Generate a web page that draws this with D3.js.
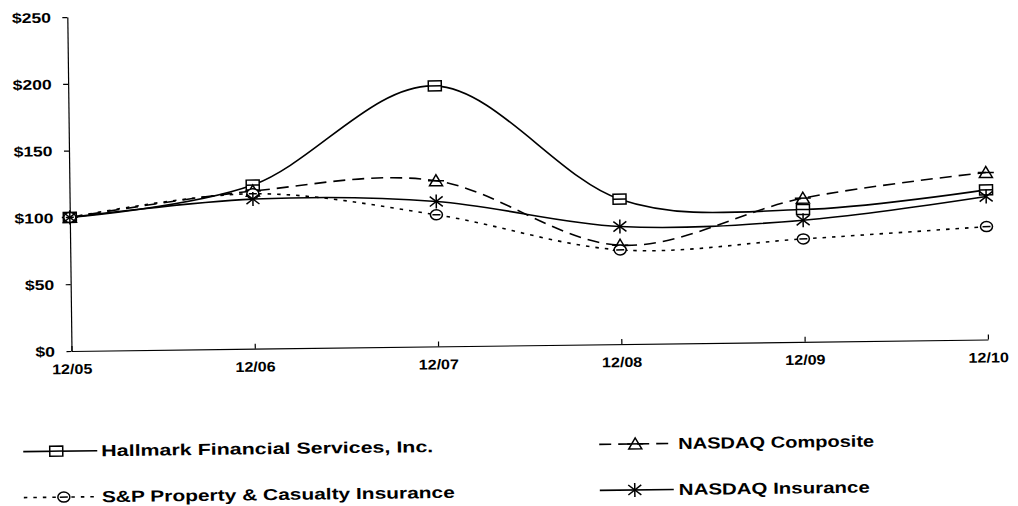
<!DOCTYPE html>
<html>
<head>
<meta charset="utf-8">
<script src="https://cdn.jsdelivr.net/npm/d3@7"></script>
<style>
  html, body { margin: 0; padding: 0; background: #fff; }
  svg { display: block; }
  text { font-family: "Liberation Sans", Arial, sans-serif; font-weight: bold; fill: #000; }
</style>
</head>
<body>
<svg id="chart" width="1018" height="506"></svg>
<script>
// ---- data ----
const categories = ["12/05", "12/06", "12/07", "12/08", "12/09", "12/10"];
const hallmark   = [100, 122.5, 195, 108.5, 99, 112];
const nasdaqComp = [100, 118, 124, 74, 107.5, 125];
const spPC       = [100, 116, 98.5, 70.5, 77, 84.5];
const nasdaqIns  = [100, 112, 108.5, 88, 91, 107];
const yTicks     = [0, 50, 100, 150, 200, 250];
const seriesNames = ["Hallmark Financial Services, Inc.", "NASDAQ Composite",
                     "S&P Property & Casualty Insurance", "NASDAQ Insurance"];

const series = [
  { name: seriesNames[0], values: hallmark,   dash: null,    marker: "square" },
  { name: seriesNames[1], values: nasdaqComp, dash: "12,7",  marker: "triangle" },
  { name: seriesNames[2], values: spPC,       dash: "3.5,6", marker: "circle" },
  { name: seriesNames[3], values: nasdaqIns,  dash: null,    marker: "star" }
];

const svg = d3.select("#chart");
svg.append("rect").attr("width", 1018).attr("height", 506).attr("fill", "#fff");

const ox = 71.5, oy = 351;
const root = svg.append("g").attr("transform", `rotate(-0.72, ${ox}, ${oy})`);

const x = d3.scalePoint().domain(categories).range([ox, 988]);
const y = d3.scaleLinear().domain([0, 250]).range([oy, 17]);

const SX = 1.25;
function stretch(sel, sx) {
  sel.each(function () {
    const t = d3.select(this);
    const tx = +t.attr("x") || 0, ty = +t.attr("y") || 0;
    t.attr("x", 0).attr("y", 0).attr("transform", `translate(${tx},${ty}) scale(${sx},1)`);
  });
}

// y axis
const yAxis = root.append("g").attr("transform", `translate(${ox},0)`)
  .call(d3.axisLeft(y).tickValues(yTicks).tickSize(5).tickSizeOuter(0).tickPadding(11.5)
        .tickFormat(d => "$" + d));
yAxis.selectAll("path, line").attr("stroke", "#000").attr("stroke-width", 1.2);
yAxis.selectAll("text").attr("font-size", 14).attr("font-family", "Liberation Sans, Arial, sans-serif")
  .attr("font-weight", "bold").attr("fill", "#000").attr("dy", "0.35em");
stretch(yAxis.selectAll("text"), SX);

// x axis
const xAxis = root.append("g").attr("transform", `translate(0,${oy})`)
  .call(d3.axisBottom(x).tickSizeInner(-5).tickSizeOuter(0).tickPadding(13));
xAxis.selectAll("path, line").attr("stroke", "#000").attr("stroke-width", 1.2);
xAxis.selectAll("text").attr("font-size", 14).attr("font-family", "Liberation Sans, Arial, sans-serif")
  .attr("font-weight", "bold").attr("fill", "#000").attr("y", 13).attr("dy", "0.71em");
xAxis.selectAll(".tick text").each(function () {
  const t = d3.select(this);
  t.attr("transform", `translate(0,13) scale(1.15,1)`).attr("y", 0);
});

// lines
const line = d3.line().x((d, i) => x(categories[i])).y(d => y(d)).curve(d3.curveCardinal.tension(0));

function drawMarker(g, type, cx, cy) {
  const m = g.append("g").attr("transform", `translate(${cx},${cy})`)
    .attr("fill", "none").attr("stroke", "#000").attr("stroke-width", 1.5);
  if (type === "square") {
    m.append("rect").attr("x", -6.5).attr("y", -5).attr("width", 13).attr("height", 10).attr("fill", "#fff");
    m.append("line").attr("x1", -6.5).attr("x2", 6.5).attr("y1", 0).attr("y2", 0);
  } else if (type === "triangle") {
    m.append("path").attr("d", "M-6.5,5 L6.5,5 L0,-6 Z");
    m.append("line").attr("x1", -8).attr("x2", 8).attr("y1", 0).attr("y2", 0);
  } else if (type === "circle") {
    m.append("ellipse").attr("rx", 6).attr("ry", 5).attr("fill", "#fff");
    m.append("line").attr("x1", -4).attr("x2", 4).attr("y1", 0).attr("y2", 0);
  } else if (type === "star") {
    m.append("line").attr("x1", 0).attr("x2", 0).attr("y1", -7).attr("y2", 7);
    m.append("line").attr("x1", -6.5).attr("x2", 6.5).attr("y1", -5).attr("y2", 5);
    m.append("line").attr("x1", -6.5).attr("x2", 6.5).attr("y1", 5).attr("y2", -5);
  }
}

const plot = root.append("g");
series.forEach(s => {
  plot.append("path").attr("d", line(s.values)).attr("fill", "none")
    .attr("stroke", "#000").attr("stroke-width", 1.6)
    .attr("stroke-dasharray", s.dash);
});
series.forEach(s => {
  s.values.forEach((v, i) => drawMarker(plot, s.marker, x(categories[i]), y(v)));
});

// legend
const legendPos = [
  { x0: 22, x1: 96, mx: 55, ty: 451, tx: 100, w: 332 },
  { x0: 598, x1: 671, mx: 634, ty: 451, tx: 677, w: 196 },
  { x0: 22, x1: 96, mx: 62, ty: 497, tx: 100, w: 353 },
  { x0: 598, x1: 672, mx: 633, ty: 497, tx: 677, w: 191 }
];
const legend = root.append("g");
series.forEach((s, i) => {
  const p = legendPos[i];
  legend.append("line").attr("x1", p.x0).attr("x2", p.x1).attr("y1", p.ty).attr("y2", p.ty)
    .attr("stroke", "#000").attr("stroke-width", 1.6).attr("stroke-dasharray", s.dash);
  drawMarker(legend, s.marker, p.mx, p.ty);
  legend.append("text").attr("x", p.tx).attr("y", p.ty).attr("dy", "0.35em")
    .attr("font-size", 16).attr("textLength", p.w).attr("lengthAdjust", "spacingAndGlyphs")
    .text(s.name);
});
</script>
</body>
</html>
